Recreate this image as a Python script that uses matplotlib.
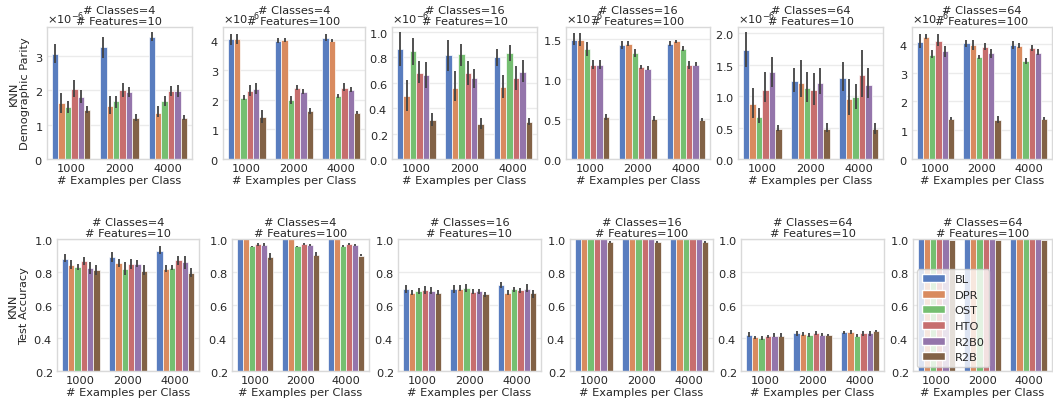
import numpy as np
import matplotlib
matplotlib.use("Agg")
import matplotlib.pyplot as plt
from matplotlib.patches import Patch
import seaborn as sns

sns.set_theme(style="whitegrid", palette="muted")
plt.rcParams['font.family'] = ['DejaVu Sans']
plt.rcParams['axes.formatter.use_mathtext'] = True
FS = 8.2

methods = ["BL", "DPR", "OST", "HTO", "R2B0", "R2B"]
sizes = ["1000", "2000", "4000"]
classes = [4, 4, 16, 16, 64, 64]
features = [10, 100, 10, 100, 10, 100]
DP_SCALE = 1e-6

# ---- Demographic parity (x 1e-6); rows = methods, cols = sizes ----
dp_mean = [
    [[3.05, 3.27, 3.55], [1.63, 1.55, 1.35], [1.53, 1.68, 1.70], [2.05, 2.00, 1.98], [1.80, 1.95, 1.98], [1.42, 1.20, 1.20]],
    [[4.03, 3.98, 4.07], [4.03, 4.00, 3.97], [2.05, 1.98, 2.12], [2.30, 2.40, 2.40], [2.35, 2.25, 2.33], [1.42, 1.60, 1.55]],
    [[0.865, 0.82, 0.805], [0.50, 0.56, 0.565], [0.85, 0.825, 0.835], [0.68, 0.675, 0.635], [0.66, 0.635, 0.685], [0.31, 0.275, 0.29]],
    [[1.49, 1.42, 1.44], [1.49, 1.44, 1.47], [1.37, 1.32, 1.38], [1.18, 1.15, 1.17], [1.18, 1.13, 1.18], [0.52, 0.50, 0.49]],
    [[1.73, 1.24, 1.29], [0.87, 1.21, 0.96], [0.67, 1.13, 0.99], [1.10, 1.09, 1.34], [1.39, 1.21, 1.18], [0.48, 0.48, 0.47]],
    [[4.08, 4.02, 3.95], [4.25, 3.95, 3.93], [3.63, 3.53, 3.40], [4.12, 3.90, 3.87], [3.75, 3.67, 3.70], [1.40, 1.36, 1.40]],
]
dp_lo = [
    [[2.80, 2.95, 3.45], [1.35, 1.30, 1.22], [1.35, 1.50, 1.55], [1.80, 1.82, 1.83], [1.62, 1.80, 1.80], [1.33, 1.12, 1.15]],
    [[3.85, 3.90, 3.98], [3.88, 3.93, 3.93], [1.98, 1.85, 2.05], [2.12, 2.32, 2.28], [2.18, 2.18, 2.25], [1.20, 1.52, 1.50]],
    [[0.73, 0.69, 0.73], [0.38, 0.46, 0.48], [0.74, 0.73, 0.77], [0.60, 0.58, 0.54], [0.56, 0.56, 0.61], [0.26, 0.235, 0.27]],
    [[1.42, 1.38, 1.41], [1.41, 1.41, 1.45], [1.29, 1.27, 1.35], [1.13, 1.13, 1.13], [1.13, 1.11, 1.16], [0.49, 0.48, 0.48]],
    [[1.46, 1.07, 1.08], [0.66, 0.98, 0.70], [0.57, 0.90, 0.80], [0.90, 0.86, 0.98], [1.15, 1.03, 0.97], [0.44, 0.43, 0.40]],
    [[3.85, 3.90, 3.82], [4.17, 3.78, 3.85], [3.50, 3.47, 3.30], [3.92, 3.80, 3.77], [3.55, 3.50, 3.60], [1.35, 1.25, 1.35]],
]
dp_hi = [
    [[3.35, 3.55, 3.70], [1.93, 1.85, 1.55], [1.70, 1.85, 1.85], [2.30, 2.22, 2.12], [2.00, 2.10, 2.15], [1.55, 1.32, 1.28]],
    [[4.22, 4.08, 4.20], [4.20, 4.08, 4.03], [2.15, 2.12, 2.20], [2.48, 2.48, 2.55], [2.55, 2.35, 2.42], [1.65, 1.72, 1.60]],
    [[1.00, 0.94, 0.87], [0.62, 0.69, 0.66], [0.95, 0.91, 0.90], [0.77, 0.77, 0.73], [0.765, 0.71, 0.78], [0.365, 0.32, 0.32]],
    [[1.57, 1.48, 1.48], [1.58, 1.47, 1.49], [1.46, 1.38, 1.41], [1.24, 1.18, 1.22], [1.24, 1.16, 1.21], [0.56, 0.54, 0.51]],
    [[2.02, 1.44, 1.54], [1.13, 1.57, 1.27], [0.81, 1.38, 1.19], [1.39, 1.37, 1.73], [1.62, 1.44, 1.45], [0.54, 0.57, 0.57]],
    [[4.33, 4.15, 4.12], [4.35, 4.15, 4.03], [3.80, 3.60, 3.50], [4.33, 4.03, 3.98], [3.92, 3.83, 3.82], [1.47, 1.50, 1.45]],
]
dp_ylim_top = [3.85, 4.44, 1.04, 1.65, 2.10, 4.59]
dp_ticks = [
    [0, 1, 2, 3],
    [0, 1, 2, 3, 4],
    [0.0, 0.2, 0.4, 0.6, 0.8, 1.0],
    [0.0, 0.5, 1.0, 1.5],
    [0.0, 0.5, 1.0, 1.5, 2.0],
    [0, 1, 2, 3, 4],
]

# ---- Test accuracy ----
acc_mean = [
    [[0.88, 0.89, 0.93], [0.845, 0.855, 0.82], [0.83, 0.82, 0.825], [0.865, 0.85, 0.87], [0.825, 0.85, 0.86], [0.81, 0.805, 0.795]],
    [[1.0, 1.0, 1.0], [1.0, 1.0, 1.0], [0.955, 0.955, 0.957], [0.97, 0.97, 0.97], [0.965, 0.963, 0.965], [0.89, 0.905, 0.90]],
    [[0.695, 0.695, 0.72], [0.675, 0.70, 0.675], [0.685, 0.705, 0.695], [0.69, 0.68, 0.69], [0.685, 0.685, 0.70], [0.675, 0.665, 0.67]],
    [[1.0, 1.0, 1.0], [1.0, 1.0, 1.0], [1.0, 1.0, 1.0], [1.0, 1.0, 1.0], [1.0, 1.0, 1.0], [0.982, 0.982, 0.982]],
    [[0.42, 0.43, 0.435], [0.405, 0.425, 0.435], [0.40, 0.42, 0.415], [0.41, 0.43, 0.43], [0.415, 0.42, 0.43], [0.415, 0.42, 0.44]],
    [[1.0, 1.0, 1.0], [1.0, 1.0, 1.0], [1.0, 1.0, 1.0], [1.0, 1.0, 1.0], [1.0, 1.0, 1.0], [0.995, 0.995, 0.995]],
]
acc_lo = [
    [[0.86, 0.86, 0.91], [0.82, 0.83, 0.80], [0.81, 0.78, 0.81], [0.84, 0.82, 0.845], [0.79, 0.83, 0.82], [0.78, 0.78, 0.77]],
    [[1.0, 1.0, 1.0], [1.0, 1.0, 1.0], [0.95, 0.95, 0.952], [0.96, 0.962, 0.962], [0.955, 0.955, 0.958], [0.875, 0.895, 0.895]],
    [[0.675, 0.675, 0.705], [0.66, 0.685, 0.66], [0.665, 0.68, 0.68], [0.665, 0.665, 0.675], [0.665, 0.665, 0.68], [0.66, 0.65, 0.645]],
    [[1.0, 1.0, 1.0], [1.0, 1.0, 1.0], [1.0, 1.0, 1.0], [1.0, 1.0, 1.0], [1.0, 1.0, 1.0], [0.978, 0.978, 0.978]],
    [[0.405, 0.415, 0.425], [0.395, 0.415, 0.425], [0.39, 0.405, 0.405], [0.40, 0.42, 0.415], [0.405, 0.41, 0.415], [0.405, 0.41, 0.435]],
    [[1.0, 1.0, 1.0], [1.0, 1.0, 1.0], [1.0, 1.0, 1.0], [1.0, 1.0, 1.0], [1.0, 1.0, 1.0], [0.995, 0.995, 0.995]],
]
acc_hi = [
    [[0.91, 0.92, 0.955], [0.87, 0.88, 0.84], [0.85, 0.86, 0.845], [0.89, 0.88, 0.895], [0.86, 0.875, 0.895], [0.84, 0.84, 0.825]],
    [[1.0, 1.0, 1.0], [1.0, 1.0, 1.0], [0.96, 0.96, 0.962], [0.975, 0.975, 0.978], [0.975, 0.97, 0.972], [0.915, 0.92, 0.91]],
    [[0.72, 0.72, 0.74], [0.69, 0.72, 0.69], [0.705, 0.73, 0.71], [0.715, 0.70, 0.705], [0.71, 0.70, 0.725], [0.69, 0.68, 0.69]],
    [[1.0, 1.0, 1.0], [1.0, 1.0, 1.0], [1.0, 1.0, 1.0], [1.0, 1.0, 1.0], [1.0, 1.0, 1.0], [0.986, 0.986, 0.986]],
    [[0.435, 0.445, 0.445], [0.415, 0.435, 0.45], [0.41, 0.43, 0.425], [0.42, 0.44, 0.44], [0.43, 0.43, 0.445], [0.43, 0.425, 0.45]],
    [[1.0, 1.0, 1.0], [1.0, 1.0, 1.0], [1.0, 1.0, 1.0], [1.0, 1.0, 1.0], [1.0, 1.0, 1.0], [0.995, 0.995, 0.995]],
]
acc_ticks = [0.2, 0.4, 0.6, 0.8, 1.0]

W, H = 1053, 406
fig = plt.figure(figsize=(W / 100, H / 100), dpi=100)

top_lefts = [47, 223, 392, 566, 738, 912]
top_rights = [192, 365, 537, 710, 883, 1052]
bot_lefts = [57, 232, 398, 570, 741, 913]
bot_rights = [199, 369, 541, 713, 884, 1052]

palette = [sns.desaturate(c, 0.75) for c in sns.color_palette("muted", 6)]
text_c = "0.15"


def px_axes(l, r, t, b):
    return fig.add_axes([l / W, 1 - b / H, (r - l) / W, (b - t) / H])


def draw(ax, mean, lo, hi, scale=1.0):
    n = len(methods)
    bw = 0.8 / n
    x = np.arange(len(sizes))
    for j in range(n):
        m = np.array(mean[j]) * scale
        l = np.array(lo[j]) * scale
        h = np.array(hi[j]) * scale
        pos = x - 0.4 + bw * (j + 0.5)
        ax.bar(pos, m, width=bw, color=palette[j], edgecolor="white", linewidth=0.5, zorder=2)
        ax.vlines(pos, l, h, color="0.26", linewidth=1.3, zorder=3)
    ax.set_xlim(-0.5, len(sizes) - 0.5)
    ax.set_xticks(x)
    ax.set_xticklabels(sizes)
    ax.grid(False, axis="x")
    ax.grid(True, axis="y", color="0.92", linewidth=1.0)
    ax.set_axisbelow(True)
    for s in ax.spines.values():
        s.set_color("0.85")
        s.set_linewidth(1.0)
    ax.tick_params(axis="both", labelsize=FS, colors=text_c, length=0, pad=3)
    ax.set_xlabel("# Examples per Class", fontsize=FS, color=text_c, labelpad=1)


def title(ax, i):
    ax.set_title(f"# Classes={classes[i]}\n# Features={features[i]}", fontsize=FS, color=text_c,
                 pad=2, linespacing=1.15, y=1.0)


for i in range(6):
    ax = px_axes(top_lefts[i], top_rights[i], 28, 160)
    draw(ax, dp_mean[i], dp_lo[i], dp_hi[i], DP_SCALE)
    ax.set_ylim(0, dp_ylim_top[i] * DP_SCALE)
    ax.set_yticks(np.array(dp_ticks[i]) * DP_SCALE)
    ax.yaxis.get_offset_text().set_fontsize(FS)
    ax.yaxis.get_offset_text().set_color(text_c)
    title(ax, i)
    if i == 0:
        ax.set_ylabel("KNN\nDemographic Parity", fontsize=FS, color=text_c, labelpad=3)

for i in range(6):
    ax = px_axes(bot_lefts[i], bot_rights[i], 240, 372)
    draw(ax, acc_mean[i], acc_lo[i], acc_hi[i])
    ax.set_ylim(0.2, 1.0)
    ax.set_yticks(acc_ticks)
    title(ax, i)
    if i == 0:
        ax.set_ylabel("KNN\nTest Accuracy", fontsize=FS, color=text_c, labelpad=3)
    if i == 5:
        handles = [Patch(facecolor=palette[j], edgecolor="white", label=methods[j]) for j in range(6)]
        leg = ax.legend(handles=handles, loc="lower left", fontsize=FS, frameon=True,
                        framealpha=0.8, handlelength=2.1, borderaxespad=0.35)
        for t in leg.get_texts():
            t.set_color(text_c)

fig.savefig("out.png", dpi=100)
